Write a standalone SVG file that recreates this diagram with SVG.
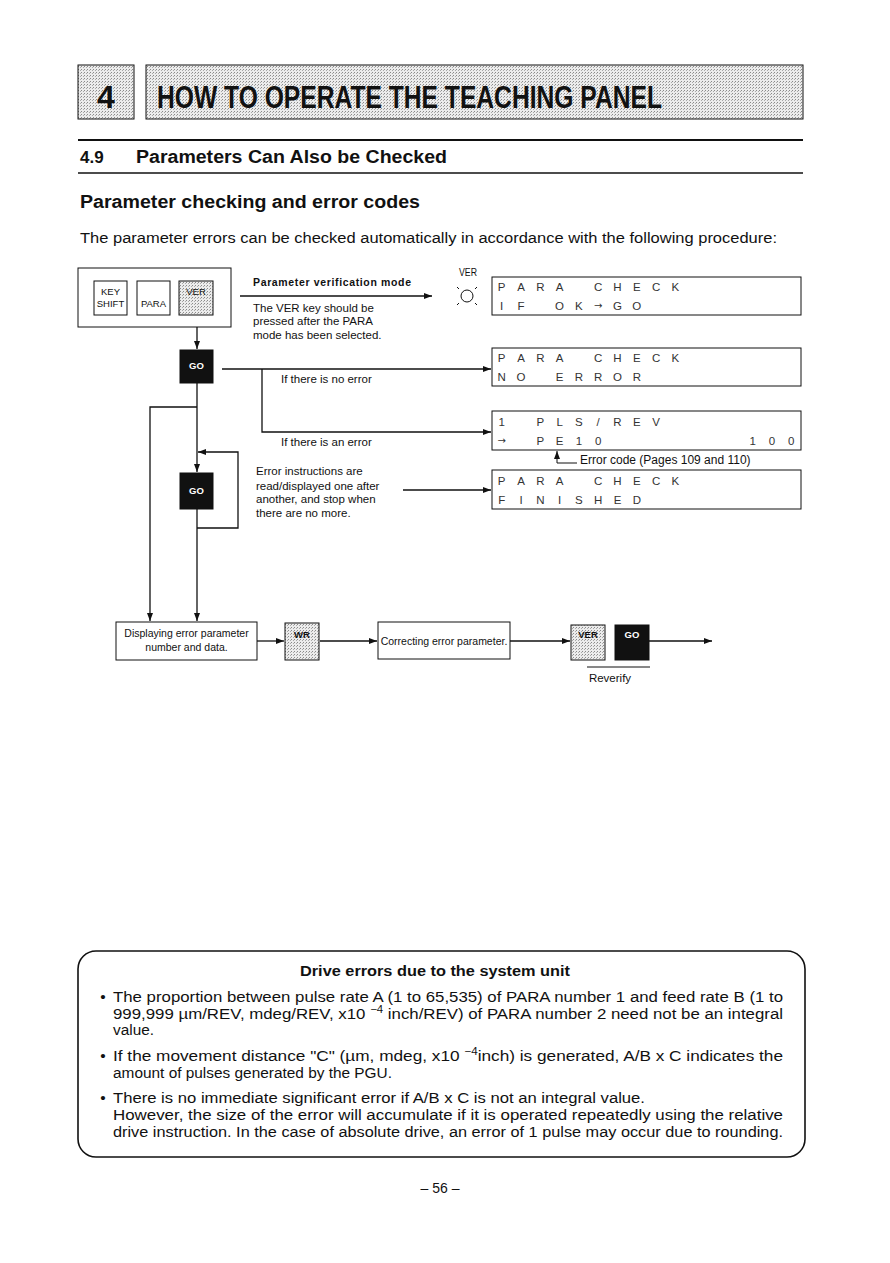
<svg xmlns="http://www.w3.org/2000/svg" width="890" height="1263" viewBox="0 0 890 1263">
<style>
text{font-family:"Liberation Sans",Arial,sans-serif;fill:#111}
.b{font-weight:bold}
.ln{stroke:#111;stroke-width:1.3;fill:none}
.box{stroke:#111;stroke-width:1;fill:#fff}
.gray{stroke:#111;stroke-width:1;fill:url(#dots)}
.blk{fill:#111;stroke:#111}
.key{font-size:9.5px;text-anchor:middle}
.gok{font-size:9.5px;font-weight:bold;text-anchor:middle;fill:#fff}
.lcd{font-size:11.5px;text-anchor:middle;fill:#333}
.arr{font-family:"DejaVu Sans",sans-serif;font-size:10px}
.sm{font-size:11.5px}
.body{font-size:15.5px}
</style>
<defs>
<pattern id="dots" width="3" height="3" patternUnits="userSpaceOnUse">
<rect width="3" height="3" fill="#ececec"/>
<rect width="1" height="1" fill="#8a8a8a"/>
<rect x="2" y="1" width="1" height="1" fill="#aaa"/>
</pattern>
<marker id="ah" markerUnits="userSpaceOnUse" markerWidth="8" markerHeight="6" refX="8" refY="3" orient="auto">
<path d="M0,0 L8,3 L0,6 z" fill="#111"/>
</marker>
</defs>
<rect width="890" height="1263" fill="#fff"/>

<g id="chapter-header">
<rect x="78" y="65" width="56" height="54" class="gray" stroke-width="1.5"/>
<text x="106" y="108" class="b" font-size="32" text-anchor="middle">4</text>
<rect x="146" y="65" width="657" height="54" class="gray" stroke-width="1.5"/>
<text x="157" y="108" class="b" font-size="32" textLength="505" lengthAdjust="spacingAndGlyphs">HOW TO OPERATE THE TEACHING PANEL</text>
</g>

<g id="section-header">
<line x1="78" y1="140" x2="803" y2="140" stroke="#111" stroke-width="2"/>
<text x="80" y="163" class="b" font-size="17">4.9</text>
<text x="136" y="163" class="b" font-size="18" textLength="311" lengthAdjust="spacingAndGlyphs">Parameters Can Also be Checked</text>
<line x1="78" y1="173" x2="803" y2="173" stroke="#111" stroke-width="1.5"/>
<text x="80" y="208" class="b" font-size="18" textLength="340" lengthAdjust="spacingAndGlyphs">Parameter checking and error codes</text>
<text x="80" y="243" class="body" textLength="697" lengthAdjust="spacingAndGlyphs">The parameter errors can be checked automatically in accordance with the following procedure:</text>
</g>

<g id="connectors">
<line x1="197" y1="327" x2="197" y2="349" class="ln" marker-end="url(#ah)"/>
<line x1="240" y1="296" x2="432" y2="296" class="ln" marker-end="url(#ah)"/>
<line x1="222" y1="369" x2="491" y2="369" class="ln" marker-end="url(#ah)"/>
<path d="M262,369 V432 H491" class="ln" marker-end="url(#ah)"/>
<line x1="197" y1="383" x2="197" y2="472" class="ln" marker-end="url(#ah)"/>
<path d="M197,407 H150 V621" class="ln" marker-end="url(#ah)"/>
<path d="M197,528 H238 V452 H198" class="ln" marker-end="url(#ah)"/>
<line x1="197" y1="509" x2="197" y2="621" class="ln" marker-end="url(#ah)"/>
<line x1="403" y1="490" x2="491" y2="490" class="ln" marker-end="url(#ah)"/>
<path d="M577,463 H557 V451" stroke="#111" stroke-width="1" fill="none" marker-end="url(#ah)"/>
<line x1="257" y1="641" x2="284" y2="641" class="ln" marker-end="url(#ah)"/>
<line x1="320" y1="641" x2="377" y2="641" class="ln" marker-end="url(#ah)"/>
<line x1="510" y1="641" x2="570" y2="641" class="ln" marker-end="url(#ah)"/>
<line x1="649" y1="641" x2="712" y2="641" class="ln" marker-end="url(#ah)"/>
</g>

<g id="keys-panel">
<rect x="78" y="268" width="153" height="59" class="box"/>
<rect x="94" y="281" width="33" height="34" class="box"/>
<text x="110.5" y="295" class="key">KEY</text>
<text x="110.5" y="307" class="key">SHIFT</text>
<rect x="137" y="281" width="33" height="34" class="box"/>
<text x="153.5" y="307" class="key">PARA</text>
<rect x="179" y="281" width="34" height="34" class="gray"/>
<text x="196" y="295" class="key">VER</text>
</g>

<g id="verify-label">
<text x="253" y="286" class="b" font-size="10.5" textLength="158">Parameter verification mode</text>
<text x="253" y="312" class="sm">The VER key should be</text>
<text x="253" y="325" class="sm">pressed after the PARA</text>
<text x="253" y="339" class="sm">mode has been selected.</text>
</g>

<g id="ver-lamp">
<text x="468" y="276" font-size="10" text-anchor="middle" textLength="18" lengthAdjust="spacingAndGlyphs">VER</text>
<circle cx="467" cy="296" r="6" fill="none" stroke="#111" stroke-width="1"/>
<path d="M457,287 l2,2 M477,287 l-2,2 M457,305 l2,-2 M477,305 l-2,-2" stroke="#111" stroke-width="1"/>
</g>

<g id="lcd-check">
<rect x="492" y="277" width="309" height="38" class="box"/>
<text class="lcd" x="501.7 521 540.3 559.6 598.2 617.5 636.8 656.1 675.4" y="291">PARACHECK</text>
<text class="lcd" x="501.7 521 559.6 578.9" y="310">IFOK<tspan class="arr" x="598.2" y="309">→</tspan><tspan x="617.5 636.8" y="310">GO</tspan></text>
</g>

<g id="go1">
<rect x="180" y="350" width="33" height="33" class="blk"/>
<text x="196.5" y="369" class="gok">GO</text>
</g>

<g id="lcd-no-error">
<rect x="492" y="348" width="309" height="38" class="box"/>
<text class="lcd" x="501.7 521 540.3 559.6 598.2 617.5 636.8 656.1 675.4" y="362">PARACHECK</text>
<text class="lcd" x="501.7 521 559.6 578.9 598.2 617.5 636.8" y="381">NOERROR</text>
</g>
<text x="281" y="383" class="sm">If there is no error</text>
<text x="281" y="446" class="sm">If there is an error</text>

<g id="lcd-error">
<rect x="492" y="411" width="309" height="39" class="box"/>
<text class="lcd" x="501.7 540.3 559.6 578.9 598.2 617.5 636.8 656.1" y="426">1PLS/REV</text>
<text class="lcd" x="501.7" y="444"><tspan class="arr">→</tspan><tspan x="540.3 559.6 578.9 598.2 752.6 771.9 791.2" y="445">PE10100</tspan></text>
<text x="580" y="464" font-size="12">Error code (Pages 109 and 110)</text>
</g>

<g id="go2">
<rect x="180" y="473" width="33" height="36" class="blk"/>
<text x="196.5" y="494" class="gok">GO</text>
</g>

<g id="repeat-label">
<text x="256" y="475" class="sm">Error instructions are</text>
<text x="256" y="490" class="sm">read/displayed one after</text>
<text x="256" y="503" class="sm">another, and stop when</text>
<text x="256" y="517" class="sm">there are no more.</text>
</g>

<g id="lcd-finished">
<rect x="492" y="470" width="309" height="39" class="box"/>
<text class="lcd" x="501.7 521 540.3 559.6 598.2 617.5 636.8 656.1 675.4" y="485">PARACHECK</text>
<text class="lcd" x="501.7 521 540.3 559.6 578.9 598.2 617.5 636.8" y="504">FINISHED</text>
</g>

<g id="display-box">
<rect x="116" y="622" width="141" height="38" class="box"/>
<text x="186.5" y="637" font-size="10.5" text-anchor="middle">Displaying error parameter</text>
<text x="186.5" y="651" font-size="10.5" text-anchor="middle">number and data.</text>
</g>

<g id="wr-key">
<rect x="285" y="623" width="34" height="37" class="gray"/>
<text x="302" y="638" class="key b">WR</text>
</g>

<g id="correct-box">
<rect x="378" y="622" width="132" height="37" class="box"/>
<text x="444" y="645" font-size="10.5" text-anchor="middle">Correcting error parameter.</text>
</g>

<g id="reverify">
<rect x="571" y="625" width="34" height="35" class="gray"/>
<text x="588" y="638" class="key b">VER</text>
<rect x="615" y="625" width="34" height="35" class="blk"/>
<text x="632" y="638" class="gok">GO</text>
<line x1="587" y1="667" x2="650" y2="667" stroke="#111" stroke-width="1"/>
<text x="610" y="682" font-size="11.5" text-anchor="middle">Reverify</text>
</g>

<g id="note-box">
<rect x="78" y="951" width="727" height="206" rx="18" ry="18" fill="none" stroke="#111" stroke-width="1.6"/>
<text x="435" y="976" class="b" font-size="14.5" text-anchor="middle" textLength="270" lengthAdjust="spacingAndGlyphs">Drive errors due to the system unit</text>
<text x="103" y="1002" class="body" text-anchor="middle">•</text>
<text x="113" y="1002" class="body" textLength="670" lengthAdjust="spacingAndGlyphs">The proportion between pulse rate A (1 to 65,535) of PARA number 1 and feed rate B (1 to</text>
<text x="113" y="1019" class="body" textLength="670" lengthAdjust="spacingAndGlyphs">999,999 µm/REV, mdeg/REV, x10 <tspan dy="-6" font-size="10.5">−4</tspan><tspan dy="6"> inch/REV) of PARA number 2 need not be an integral</tspan></text>
<text x="113" y="1035" class="body" textLength="41" lengthAdjust="spacingAndGlyphs">value.</text>
<text x="103" y="1061" class="body" text-anchor="middle">•</text>
<text x="113" y="1061" class="body" textLength="670" lengthAdjust="spacingAndGlyphs">If the movement distance "C" (µm, mdeg, x10 <tspan dy="-6" font-size="10.5">−4</tspan><tspan dy="6">inch) is generated, A/B x C indicates the</tspan></text>
<text x="113" y="1078" class="body" textLength="279" lengthAdjust="spacingAndGlyphs">amount of pulses generated by the PGU.</text>
<text x="103" y="1103" class="body" text-anchor="middle">•</text>
<text x="113" y="1103" class="body" textLength="532" lengthAdjust="spacingAndGlyphs">There is no immediate significant error if A/B x C is not an integral value.</text>
<text x="113" y="1120" class="body" textLength="670" lengthAdjust="spacingAndGlyphs">However, the size of the error will accumulate if it is operated repeatedly using the relative</text>
<text x="113" y="1137" class="body" textLength="670" lengthAdjust="spacingAndGlyphs">drive instruction.  In the case of absolute drive, an error of 1 pulse may occur due to rounding.</text>
</g>

<text x="440" y="1193" font-size="14" text-anchor="middle">– 56 –</text>
</svg>
